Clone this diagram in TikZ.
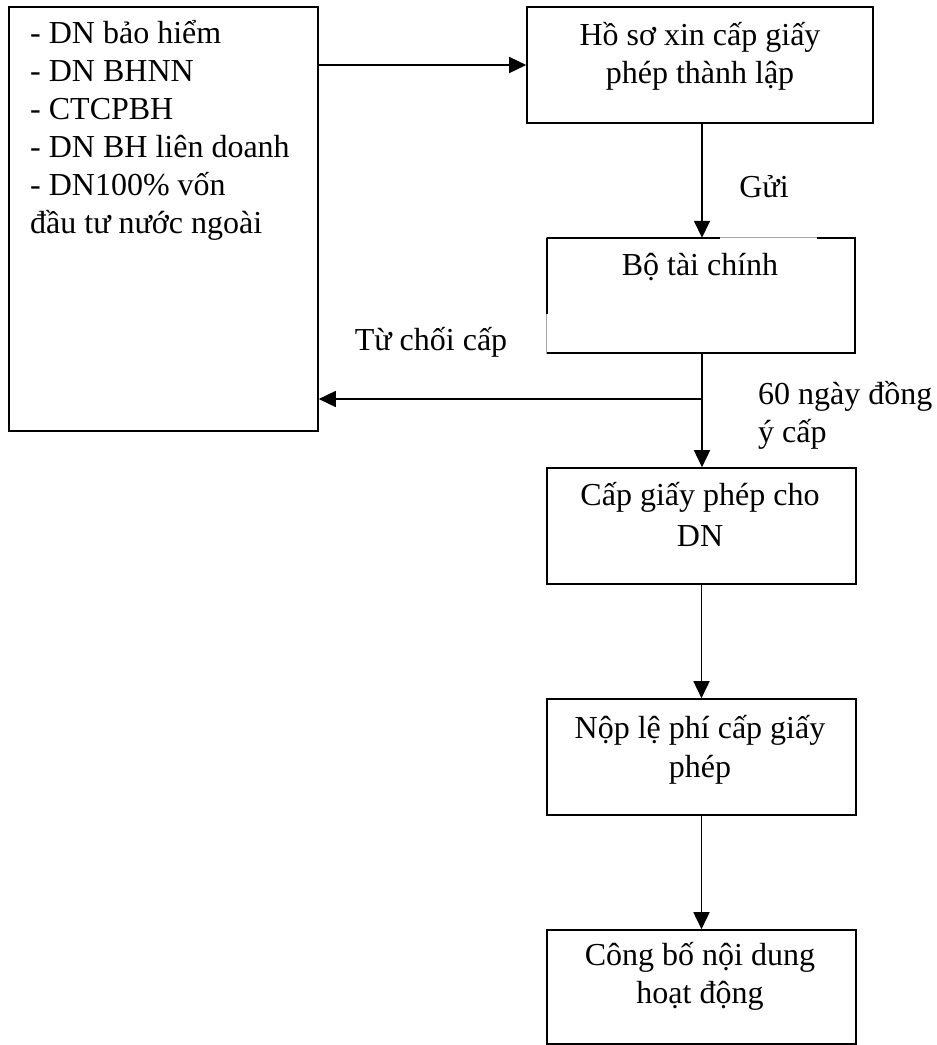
\documentclass[tikz,border=0pt]{standalone}
\usepackage{fontspec}
\setmainfont{Liberation Serif}
\usetikzlibrary{arrows.meta}
\begin{document}
\begin{tikzpicture}[x=1pt,y=-1pt,
  font=\fontsize{32}{38}\selectfont,
  box/.style={draw=black,line width=1.6pt,rectangle,inner sep=0pt},
  arr/.style={line width=1.6pt,-{Triangle[length=17pt,width=16pt]}},
  conn/.style={line width=1.6pt},
  lbl/.style={inner sep=0pt,anchor=base},
  lbll/.style={inner sep=0pt,anchor=base west}]
\useasboundingbox (0,0) rectangle (937,1045);
% boxes
\node[box,minimum width=309pt,minimum height=424pt] (left) at (163.5,219) {};
\node[box,minimum width=346pt,minimum height=116pt] (ho) at (700,65) {};
\node[inner sep=0pt,minimum width=308pt,minimum height=115pt] (btc) at (701,295.5) {};
\draw[line width=0.9pt,gray!70] (btc.north west) rectangle (btc.south east);
\draw[line width=1.6pt] (btc.north west) -- ([xshift=173pt]btc.north west);
\draw[line width=1.6pt] ([xshift=-38pt]btc.north east) -- (btc.north east) -- (btc.south east) -- (btc.south west);
\draw[line width=1.6pt] (btc.north west) -- ([yshift=-76pt]btc.north west);
\node[box,minimum width=309pt,minimum height=116pt] (cap) at (701.5,526) {};
\node[box,minimum width=309pt,minimum height=116pt] (nop) at (701.5,757) {};
\node[box,minimum width=309pt,minimum height=114pt] (cb) at (701.5,987) {};
% texts
\node[lbll] (l1) at (30,43) {- DN bảo hiểm};
\node[lbll] (l2) at (30,81) {- DN BHNN};
\node[lbll] (l3) at (30,119) {- CTCPBH};
\node[lbll] (l4) at (30,157) {- DN BH liên doanh};
\node[lbll] (l5) at (30,195) {- DN100\% vốn};
\node[lbll] (l6) at (30,233) {đầu tư nước ngoài};
\node[lbl] (h1) at (700,45) {Hồ sơ xin cấp giấy};
\node[lbl] (h2) at (700,83) {phép thành lập};
\node[lbl] (gui) at (764,197) {Gửi};
\node[lbl] (b1) at (700,275) {Bộ tài chính};
\node[lbl] (tc) at (431,350) {Từ chối cấp};
\node[lbll] (s1) at (758,404) {60 ngày đồng};
\node[lbll] (s2) at (758,442) {ý cấp};
\node[lbl] (c1) at (700,505) {Cấp giấy phép cho};
\node[lbl] (c2) at (700,546) {DN};
\node[lbl] (n1) at (700,738) {Nộp lệ phí cấp giấy};
\node[lbl] (n2) at (700,777) {phép};
\node[lbl] (k1) at (700,965) {Công bố nội dung};
\node[lbl] (k2) at (700,1003) {hoạt động};
% connectors
\draw[arr] (left.east |- ho.west) -- (ho.west);
\draw[arr] ([xshift=2pt]ho.south) -- ([xshift=2pt]ho.south |- btc.north);
\coordinate (j) at ([xshift=1pt]btc.south |- 0,399);
\draw[conn] ([xshift=1pt]btc.south) -- (j);
\draw[arr] (j) -- ([xshift=1pt]btc.south |- cap.north);
\draw[arr] (j) -- (left.east |- j);
\draw[arr] (cap.south) -- (nop.north);
\draw[arr] (nop.south) -- (cb.north);
\end{tikzpicture}
\end{document}
